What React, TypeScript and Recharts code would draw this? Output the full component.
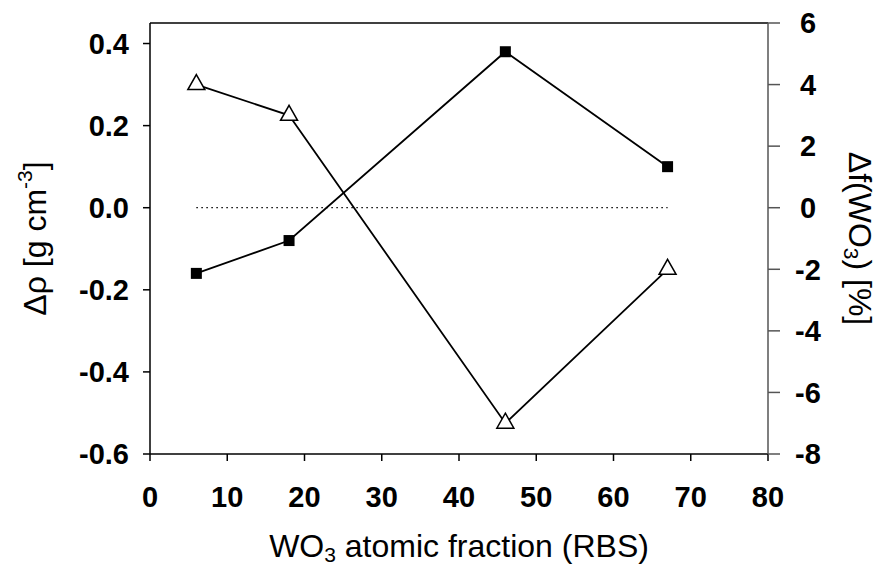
import React from 'react';
import { LineChart, Line, XAxis, YAxis, ReferenceLine } from 'recharts';

// WO3 atomic fraction measured by RBS
const fraction = [6, 18, 46, 67];
// Density difference Δρ [g cm^-3]
const densityChange = [-0.16, -0.08, 0.38, 0.1];
// Relative change of the WO3 fraction Δf(WO3) [%]
const fractionChange = [4, 3, -7, -2];

const xTicks = [0, 10, 20, 30, 40, 50, 60, 70, 80];
const leftTicks = [-0.6, -0.4, -0.2, 0, 0.2, 0.4];
const rightTicks = [-8, -6, -4, -2, 0, 2, 4, 6];
const zeroSpan = [6, 67];

const rows = fraction.map((x, i) => ({ x, rho: densityChange[i], df: fractionChange[i] }));
const zeroRows = zeroSpan.map((x) => ({ x, zero: 0 }));

const FONT = '"Liberation Sans", Arial, Helvetica, sans-serif';
const tickStyle = { fontFamily: FONT, fontSize: 29, fontWeight: 700, fill: '#000' };
const TITLE_SIZE = 32;
const SUB_SIZE = 21;

const Square = (p: any) => {
  if (p.cx == null || p.cy == null) return null;
  return <rect key={`sq-${p.index}`} x={p.cx - 5.5} y={p.cy - 5.5} width={11} height={11} fill="#000" />;
};

const Triangle = (p: any) => {
  if (p.cx == null || p.cy == null) return null;
  const { cx, cy } = p;
  return (
    <path
      key={`tr-${p.index}`}
      d={`M${cx},${cy - 10} L${cx + 8.5},${cy + 5} L${cx - 8.5},${cy + 5} Z`}
      fill="#fff"
      stroke="#000"
      strokeWidth={1.5}
    />
  );
};

const LeftTitle = (props: any) => {
  const vb = props.viewBox || { x: 0, y: 0, width: 0, height: 0 };
  const cx = vb.x + 35;
  const cy = vb.y + vb.height / 2;
  return (
    <text
      x={cx}
      y={cy}
      transform={`rotate(-90 ${cx} ${cy})`}
      textAnchor="middle"
      dominantBaseline="central"
      fontFamily={FONT}
      fontSize={TITLE_SIZE}
      fill="#000"
    >
      Δρ [g cm<tspan dy={-11} fontSize={SUB_SIZE}>-3</tspan>
      <tspan dy={11}>]</tspan>
    </text>
  );
};

const RightTitle = (props: any) => {
  const vb = props.viewBox || { x: 0, y: 0, width: 0, height: 0 };
  const cx = vb.x + 92;
  const cy = vb.y + vb.height / 2;
  return (
    <text
      x={cx}
      y={cy}
      transform={`rotate(90 ${cx} ${cy})`}
      textAnchor="middle"
      dominantBaseline="central"
      fontFamily={FONT}
      fontSize={TITLE_SIZE}
      fill="#000"
    >
      Δf(WO<tspan dy={8} fontSize={SUB_SIZE}>3</tspan>
      <tspan dy={-8}>) [%]</tspan>
    </text>
  );
};

const BottomTitle = (props: any) => {
  const vb = props.viewBox || { x: 0, y: 0, width: 0, height: 0 };
  const cx = vb.x + vb.width / 2;
  const cy = vb.y + 92;
  return (
    <text
      x={cx}
      y={cy}
      textAnchor="middle"
      dominantBaseline="central"
      fontFamily={FONT}
      fontSize={TITLE_SIZE}
      fill="#000"
    >
      WO<tspan dy={8} fontSize={SUB_SIZE}>3</tspan>
      <tspan dy={-8}> atomic fraction (RBS)</tspan>
    </text>
  );
};

export default function App() {
  return (
    <div style={{ position: 'absolute', left: 0, top: 0, width: 890, height: 571, background: '#fff' }}>
      <LineChart width={890} height={571} data={rows} margin={{ top: 23, right: 0, bottom: 0, left: 0 }}>
        <XAxis
          dataKey="x"
          type="number"
          domain={[0, 80]}
          ticks={xTicks}
          allowDataOverflow
          height={117}
          tickSize={7}
          tickMargin={25}
          tick={tickStyle}
          stroke="#000"
          strokeWidth={1.5}
          label={BottomTitle}
        />
        <YAxis
          yAxisId="left"
          domain={[-0.6, 0.45]}
          ticks={leftTicks}
          allowDataOverflow
          width={150}
          tickSize={7}
          tickMargin={14}
          tick={tickStyle}
          tickFormatter={(v: number) => v.toFixed(1)}
          stroke="#000"
          strokeWidth={1.5}
          label={LeftTitle}
        />
        <YAxis
          yAxisId="right"
          orientation="right"
          domain={[-8, 6]}
          ticks={rightTicks}
          allowDataOverflow
          width={122}
          tickSize={12}
          tickMargin={28}
          tick={{ ...tickStyle, textAnchor: 'middle' }}
          stroke="#555"
          strokeWidth={1.5}
          label={RightTitle}
        />
        <ReferenceLine yAxisId="left" y={0.45} stroke="#000" strokeWidth={1.5} />
        <Line
          yAxisId="left"
          data={zeroRows}
          dataKey="zero"
          stroke="#000"
          strokeWidth={1.3}
          strokeDasharray="1.5 3.5"
          dot={false}
          activeDot={false}
          isAnimationActive={false}
        />
        <Line
          yAxisId="right"
          dataKey="df"
          stroke="#000"
          strokeWidth={1.8}
          dot={Triangle}
          activeDot={false}
          isAnimationActive={false}
        />
        <Line
          yAxisId="left"
          dataKey="rho"
          stroke="#000"
          strokeWidth={1.8}
          dot={Square}
          activeDot={false}
          isAnimationActive={false}
        />
      </LineChart>
    </div>
  );
}
